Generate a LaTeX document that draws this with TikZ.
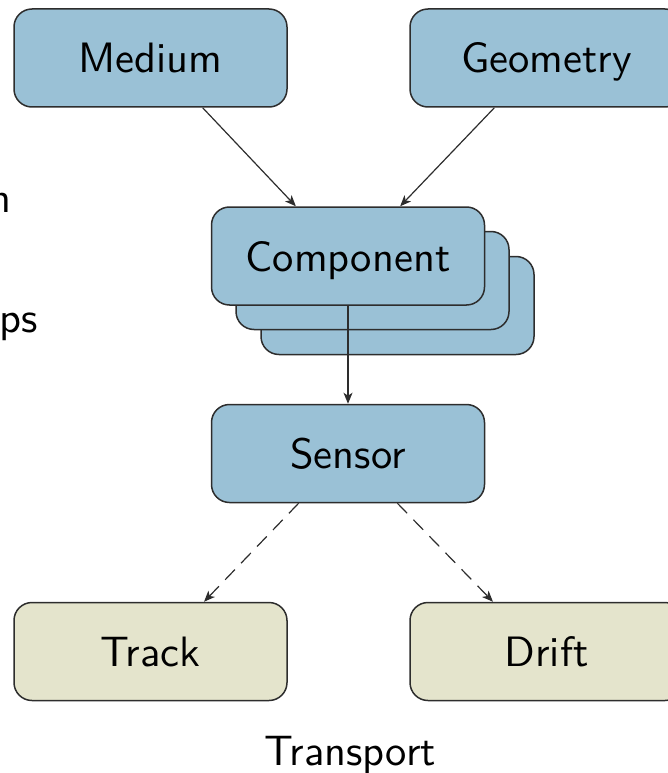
\documentclass[tikz,border=0pt]{standalone}
\usetikzlibrary{arrows.meta,calc}
\definecolor{boxblue}{RGB}{154,193,214}
\definecolor{boxbeige}{RGB}{228,228,204}
\definecolor{edgegray}{RGB}{45,45,45}
\newcommand{\bigtxt}[1]{\scalebox{4.25}{#1}}
\begin{document}
\begin{tikzpicture}[x=1pt,y=-1pt,
  every node/.style={font=\sffamily\fontsize{10}{12}\selectfont},
  box/.style={draw=edgegray,line width=1.5pt,rounded corners=18pt,
    minimum width=273pt,minimum height=98pt,inner sep=0pt,
    text height=30pt,text depth=0pt},
  bluebox/.style={box,fill=boxblue},
  beigebox/.style={box,fill=boxbeige},
  conn/.style={draw=edgegray,line width=1.2pt,-{Stealth[length=11pt,width=9pt,inset=3pt]}},
  dconn/.style={conn,dash pattern=on 14pt off 9pt}]
\useasboundingbox (0,0) rectangle (667,773);
\node[bluebox] (medium) at (150.5,58) {\bigtxt{Medium}};
\node[bluebox] (geometry) at (546.5,58) {\bigtxt{Geometry}};
\node[bluebox] (comp3) at (397.5,305.5) {};
\node[bluebox] (comp2) at (372.5,280.5) {};
\node[bluebox] (comp) at (348,256) {\bigtxt{Component}};
\node[bluebox] (sensor) at (348,453.5) {\bigtxt{Sensor}};
\node[beigebox] (track) at (150.5,651.5) {\bigtxt{Track}};
\node[beigebox] (drift) at (546.5,651.5) {\bigtxt{Drift}};
\node[anchor=base,inner sep=0pt] (transport) at (350,765) {\bigtxt{Transport}};
\node[anchor=base east,inner sep=0pt] (lefta) at (12,212) {\bigtxt{n}};
\node[anchor=base east,inner sep=0pt] (leftb) at (38,332) {\bigtxt{ps}};
\draw[conn] ($(medium.south)!0.38!(medium.south east)$) -- ($(comp.north)!0.38!(comp.north west)$);
\draw[conn] ($(geometry.south)!0.38!(geometry.south west)$) -- ($(comp.north)!0.38!(comp.north east)$);
\draw[conn] (comp.south) -- (sensor.north);
\draw[dconn] ($(sensor.south)!0.36!(sensor.south west)$) -- ($(track.north)!0.39!(track.north east)$);
\draw[dconn] ($(sensor.south)!0.36!(sensor.south east)$) -- ($(drift.north)!0.39!(drift.north west)$);
\end{tikzpicture}
\end{document}
